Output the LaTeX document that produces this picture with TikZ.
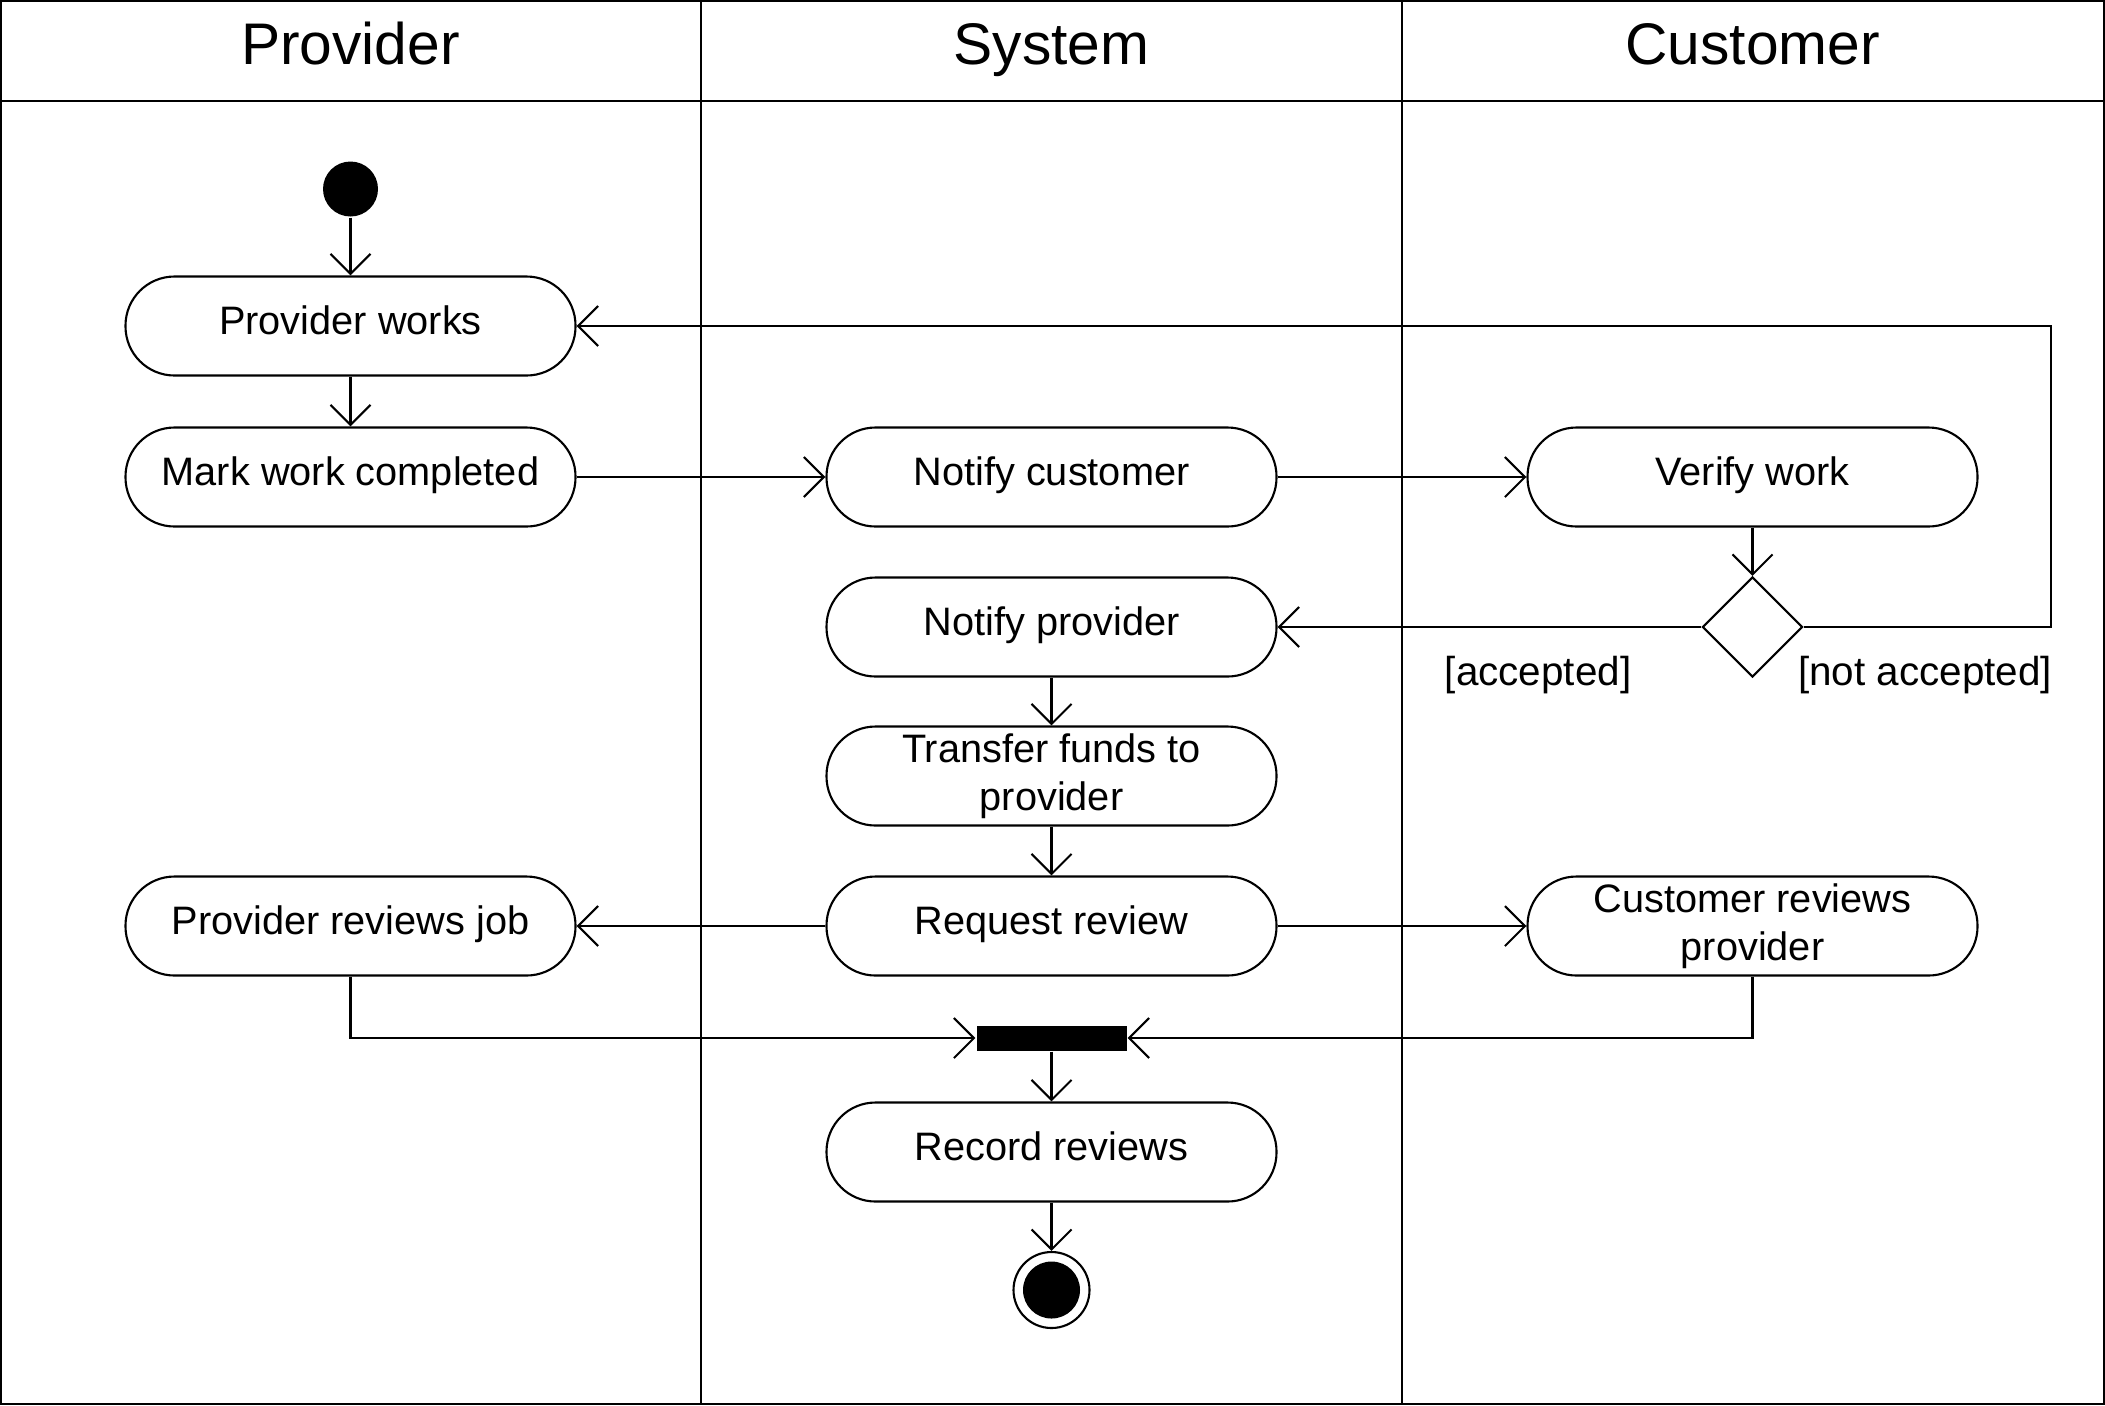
\documentclass[tikz,border=0pt]{standalone}
\usepackage{fontspec}
\setmainfont{Liberation Sans}
\usetikzlibrary{arrows.meta,shapes.geometric}

\begin{document}
\begin{tikzpicture}[line width=0.6pt,
    >={Straight Barb[length=2mm,width=4mm]},
    box/.style={draw,rectangle,rounded corners=0.49cm,minimum width=4.5cm,minimum height=0.99cm,inner sep=0pt,align=center,font=\fontsize{11.3}{13.7}\selectfont},
    act/.style={box,text height=0.75em,text depth=0.25em},
    lane/.style={anchor=base,font=\fontsize{16.7}{20}\selectfont},
    guard/.style={font=\fontsize{11.5}{14}\selectfont}]
    \useasboundingbox (0,0) rectangle (21.05,-14.05);
    % swimlanes
    \draw (0.01,-0.01) rectangle (21.04,-14.04);
    \draw (7.01,-0.01)--(7.01,-14.04);
    \draw (14.02,-0.01)--(14.02,-14.04);
    \draw (0.01,-1.01)--(21.04,-1.01);
    \node[lane] (L1) at (3.505,-0.645) {Provider};
    \node[lane] (L2) at (10.515,-0.645) {System};
    \node[lane] (L3) at (17.525,-0.645) {Customer};
    % nodes
    \node[circle,fill=black,minimum size=0.55cm,inner sep=0pt] (start) at (3.505,-1.89) {};
    \node[act] (works) at (3.505,-3.26) {Provider works};
    \node[act] (mark) at (3.505,-4.77) {Mark work completed};
    \node[act] (notcust) at (10.515,-4.77) {Notify customer};
    \node[act] (verify) at (17.525,-4.77) {Verify work};
    \node[draw,diamond,minimum size=1cm,inner sep=0pt] (dec) at (17.525,-6.27) {};
    \node[act] (notprov) at (10.515,-6.27) {Notify provider};
    \node[box] (funds) at (10.515,-7.76) {Transfer funds to\\provider};
    \node[act] (request) at (10.515,-9.26) {Request review};
    \node[act] (provrev) at (3.505,-9.26) {Provider reviews job};
    \node[box] (custrev) at (17.525,-9.26) {Customer reviews\\provider};
    \node[rectangle,fill=black,minimum width=1.5cm,minimum height=0.25cm,inner sep=0pt] (join) at (10.515,-10.38) {};
    \node[act] (record) at (10.515,-11.52) {Record reviews};
    \node[circle,draw,minimum size=0.76cm,inner sep=0pt] (stop) at (10.515,-12.9) {};
    \node[circle,fill=black,minimum size=0.57cm,inner sep=0pt] (stopin) at (stop) {};
    % flows
    \draw [->] (start)--(works);
    \draw [->] (works)--(mark);
    \draw [->] (mark)--(notcust);
    \draw [->] (notcust)--(verify);
    \draw [->] (verify)--(dec);
    \draw [->] (dec.west)--(notprov);
    \draw [->] (dec.east)--(20.51,-6.27)--(20.51,-3.26)--(works.east);
    \draw [->] (notprov)--(funds);
    \draw [->] (funds)--(request);
    \draw [->] (request)--(provrev);
    \draw [->] (request)--(custrev);
    \draw [->] (provrev.south)|-(join.west);
    \draw [->] (custrev.south)|-(join.east);
    \draw [->] (join)--(record);
    \draw [->] (record)--(stop);
    \node[guard] (acc) at (15.38,-6.75) {[accepted]};
    \node[guard] (nacc) at (19.25,-6.75) {[not accepted]};
\end{tikzpicture}
\end{document}
